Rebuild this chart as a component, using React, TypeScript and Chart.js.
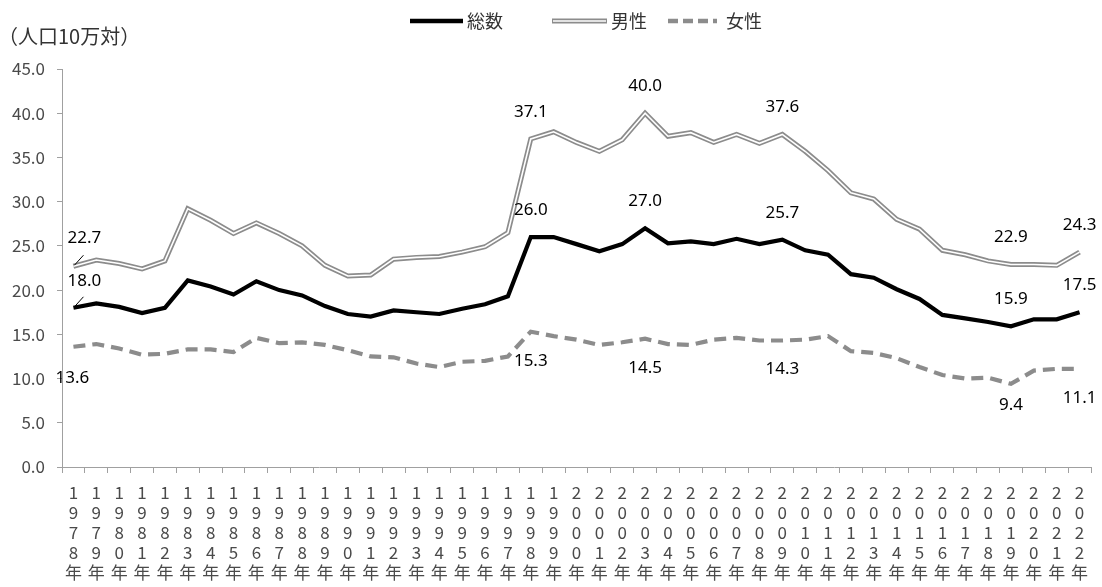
import React, { useEffect, useRef } from "react";
import { Chart, registerables } from "chart.js";

Chart.register(...registerables);

// 自殺死亡率の年次推移（人口10万対）
const years: number[] = [
  1978, 1979, 1980, 1981, 1982, 1983, 1984, 1985, 1986, 1987, 1988, 1989,
  1990, 1991, 1992, 1993, 1994, 1995, 1996, 1997, 1998, 1999, 2000, 2001,
  2002, 2003, 2004, 2005, 2006, 2007, 2008, 2009, 2010, 2011, 2012, 2013,
  2014, 2015, 2016, 2017, 2018, 2019, 2020, 2021, 2022,
];

const total: number[] = [
  18.0, 18.5, 18.1, 17.4, 18.0, 21.1, 20.4, 19.5, 21.0, 20.0, 19.4, 18.2,
  17.3, 17.0, 17.7, 17.5, 17.3, 17.9, 18.4, 19.3, 26.0, 26.0, 25.2, 24.4,
  25.2, 27.0, 25.3, 25.5, 25.2, 25.8, 25.2, 25.7, 24.5, 24.0, 21.8, 21.4,
  20.1, 19.0, 17.2, 16.8, 16.4, 15.9, 16.7, 16.7, 17.5,
];

const male: number[] = [
  22.7, 23.4, 23.0, 22.4, 23.3, 29.2, 27.9, 26.4, 27.6, 26.4, 25.0, 22.8,
  21.6, 21.7, 23.5, 23.7, 23.8, 24.3, 24.9, 26.5, 37.1, 37.9, 36.7, 35.7,
  37.0, 40.0, 37.4, 37.8, 36.7, 37.6, 36.6, 37.6, 35.7, 33.5, 31.0, 30.3,
  28.0, 26.9, 24.5, 24.0, 23.3, 22.9, 22.9, 22.8, 24.3,
];

const female: number[] = [
  13.6, 13.9, 13.4, 12.7, 12.8, 13.3, 13.3, 13.0, 14.6, 14.0, 14.1, 13.8,
  13.2, 12.5, 12.4, 11.7, 11.3, 11.9, 12.0, 12.5, 15.3, 14.8, 14.4, 13.8,
  14.1, 14.5, 13.9, 13.8, 14.4, 14.6, 14.3, 14.3, 14.4, 14.8, 13.1, 12.9,
  12.3, 11.3, 10.4, 10.0, 10.1, 9.4, 10.9, 11.1, 11.1,
];

// 数値を表示する年
const labeledYears: number[] = [1978, 1998, 2003, 2009, 2019, 2022];

const Y_MIN = 0;
const Y_MAX = 45;
const Y_STEP = 5;

const AXIS_FONT = '"Noto Sans CJK JP", "Noto Sans", sans-serif';
const LABEL_FONT = '"Noto Sans", "Noto Sans CJK JP", sans-serif';
const AXIS_GRAY = "#a0a0a0";
const TEXT_GRAY = "#4a4a4a";
const SERIES_GRAY = "#8c8c8c";

// 縦書き風に1文字ずつ改行した年ラベル
const categoryLabels = years.map((y) => [...String(y).split(""), "年"]);

type SeriesKey = "total" | "male" | "female";

// 数値ラベルの位置（点からのずれ）
function labelPlacement(series: SeriesKey, year: number) {
  if (year === years[0]) {
    if (series === "male") return { dx: 11, dy: -28, leader: true };
    if (series === "total") return { dx: 11, dy: -27, leader: true };
    return { dx: -1, dy: 31, leader: false };
  }
  if (series === "female") {
    return { dx: 0, dy: year === 2019 ? 21 : 29, leader: false };
  }
  return { dx: 0, dy: -27, leader: false };
}

const decorPlugin = {
  id: "decor",
  afterDraw(chart: any) {
    const ctx: CanvasRenderingContext2D = chart.ctx;
    ctx.save();

    // 単位
    ctx.fillStyle = "#333";
    ctx.font = `20px ${AXIS_FONT}`;
    ctx.textAlign = "left";
    ctx.textBaseline = "middle";
    ctx.fillText("（人口10万対）", -2, 36);

    // 凡例
    const ly = 21;
    ctx.font = `18px ${AXIS_FONT}`;
    ctx.fillStyle = "#333";
    ctx.lineCap = "butt";
    // 総数
    ctx.strokeStyle = "#000";
    ctx.lineWidth = 4.5;
    ctx.beginPath();
    ctx.moveTo(410, ly);
    ctx.lineTo(463, ly);
    ctx.stroke();
    ctx.fillText("総数", 467, ly);
    // 男性
    ctx.strokeStyle = SERIES_GRAY;
    ctx.lineWidth = 5;
    ctx.beginPath();
    ctx.moveTo(552, ly);
    ctx.lineTo(607, ly);
    ctx.stroke();
    ctx.strokeStyle = "#fff";
    ctx.lineWidth = 1.6;
    ctx.beginPath();
    ctx.moveTo(553, ly);
    ctx.lineTo(606, ly);
    ctx.stroke();
    ctx.fillText("男性", 611, ly);
    // 女性
    ctx.strokeStyle = SERIES_GRAY;
    ctx.lineWidth = 4.5;
    ctx.setLineDash([10, 5]);
    ctx.beginPath();
    ctx.moveTo(668, ly);
    ctx.lineTo(717, ly);
    ctx.stroke();
    ctx.setLineDash([]);
    ctx.fillText("女性", 726, ly);

    // 数値ラベル
    const seriesMeta: { key: SeriesKey; values: number[]; dsIndex: number }[] = [
      { key: "male", values: male, dsIndex: 2 },
      { key: "total", values: total, dsIndex: 0 },
      { key: "female", values: female, dsIndex: 3 },
    ];
    ctx.font = `17px ${LABEL_FONT}`;
    ctx.fillStyle = "#000";
    ctx.textAlign = "center";
    ctx.textBaseline = "middle";
    for (const s of seriesMeta) {
      const meta = chart.getDatasetMeta(s.dsIndex);
      for (const yr of labeledYears) {
        const i = years.indexOf(yr);
        const pt = meta.data[i];
        if (!pt) continue;
        const p = labelPlacement(s.key, yr);
        const tx = pt.x + p.dx;
        const ty = pt.y + p.dy;
        ctx.fillText(s.values[i].toFixed(1), tx, ty);
        if (p.leader) {
          ctx.strokeStyle = "#000";
          ctx.lineWidth = 1;
          ctx.beginPath();
          ctx.moveTo(pt.x + 1, pt.y - 1);
          ctx.lineTo(pt.x + 10, pt.y - 11);
          ctx.stroke();
        }
      }
    }
    ctx.restore();
  },
};

export default function App() {
  const canvasRef = useRef<HTMLCanvasElement | null>(null);

  useEffect(() => {
    document.body.style.margin = "0";
    const canvas = canvasRef.current;
    if (!canvas) return;

    const chart = new Chart(canvas, {
      type: "line",
      data: {
        labels: categoryLabels,
        datasets: [
          {
            label: "総数",
            data: total,
            borderColor: "#000",
            borderWidth: 4.2,
            pointRadius: 0,
            tension: 0,
            order: 0,
          },
          {
            label: "男性(内線)",
            data: male,
            borderColor: "#fff",
            borderWidth: 1.6,
            pointRadius: 0,
            tension: 0,
            order: 1,
          },
          {
            label: "男性",
            data: male,
            borderColor: SERIES_GRAY,
            borderWidth: 5,
            pointRadius: 0,
            tension: 0,
            order: 2,
          },
          {
            label: "女性",
            data: female,
            borderColor: SERIES_GRAY,
            borderWidth: 4.2,
            borderDash: [12, 7],
            pointRadius: 0,
            tension: 0,
            order: 3,
          },
        ],
      },
      options: {
        animation: false,
        responsive: true,
        maintainAspectRatio: false,
        layout: { padding: { top: 69, right: 11, bottom: 0, left: 0 } },
        plugins: {
          legend: { display: false },
          tooltip: { enabled: false },
        },
        scales: {
          x: {
            type: "category",
            offset: true,
            grid: {
              offset: true,
              drawOnChartArea: false,
              drawTicks: true,
              tickLength: 6,
              color: AXIS_GRAY,
            },
            border: { display: true, color: AXIS_GRAY, width: 1 },
            ticks: {
              autoSkip: false,
              maxRotation: 0,
              minRotation: 0,
              padding: 10,
              color: TEXT_GRAY,
              font: { family: AXIS_FONT, size: 17, lineHeight: 20 / 17 },
            },
            afterFit(scale: any) {
              scale.height = 120;
            },
          },
          y: {
            min: Y_MIN,
            max: Y_MAX,
            grid: {
              drawOnChartArea: false,
              drawTicks: true,
              tickLength: 5,
              color: AXIS_GRAY,
            },
            border: { display: true, color: AXIS_GRAY, width: 1 },
            ticks: {
              stepSize: Y_STEP,
              padding: 12,
              color: TEXT_GRAY,
              font: { family: AXIS_FONT, size: 17 },
              callback: (v: any) => Number(v).toFixed(1),
            },
            afterFit(scale: any) {
              scale.width = 62;
            },
          },
        },
      },
      plugins: [decorPlugin],
    });

    return () => chart.destroy();
  }, []);

  return (
    <div style={{ position: "relative", width: 1102, height: 587 }}>
      <canvas ref={canvasRef} />
    </div>
  );
}
